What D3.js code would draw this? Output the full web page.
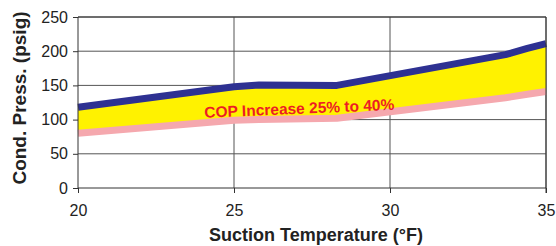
<!DOCTYPE html>
<html>
<head>
<meta charset="utf-8">
<script src="https://cdn.jsdelivr.net/npm/d3@7"></script>
<style>
  body { margin: 0; background: #fff; }
  text { font-family: "Liberation Sans", Arial, sans-serif; }
</style>
</head>
<body>
<svg id="chart" width="556" height="246"></svg>
<script>
// suction temperature (°F) where the lines change direction
const temps = [20, 25, 25.8, 28.3, 33.7, 34.4, 35];
// condensing pressure, upper (blue) and lower (pink) lines
const upperPress = [118, 148, 150.5, 150, 195, 204, 211];
const lowerPress = [80, 99, 100, 102, 132, 137, 141];
const xTicks = [20, 25, 30, 35];
const yTicks = [0, 50, 100, 150, 200, 250];
const bandLabel = 'COP Increase 25% to 40%';

const width = 556, height = 246;
const margin = { top: 17, right: 10, bottom: 58, left: 78 };

const svg = d3.select('#chart');

const x = d3.scaleLinear().domain([20, 35]).range([margin.left, width - margin.right]);
const y = d3.scaleLinear().domain([0, 250]).range([height - margin.bottom, margin.top]);

const rows = temps.map((t, i) => ({ t, hi: upperPress[i], lo: lowerPress[i] }));

// grid
svg.append('g')
  .selectAll('line')
  .data(yTicks.slice(1))
  .join('line')
  .attr('x1', x(20)).attr('x2', x(35))
  .attr('y1', d => y(d)).attr('y2', d => y(d))
  .attr('stroke', '#555').attr('stroke-width', 1);

svg.append('g')
  .selectAll('line')
  .data(xTicks.slice(1))
  .join('line')
  .attr('x1', d => x(d)).attr('x2', d => x(d))
  .attr('y1', y(0)).attr('y2', y(250))
  .attr('stroke', '#555').attr('stroke-width', 1);

// yellow band between lines
const area = d3.area()
  .x(d => x(d.t))
  .y0(d => y(d.lo))
  .y1(d => y(d.hi));

svg.append('path')
  .datum(rows)
  .attr('d', area)
  .attr('fill', '#fff200');

const line = key => d3.line()
  .x(d => x(d.t))
  .y(d => y(d[key]));

svg.append('path')
  .datum(rows)
  .attr('d', line('lo'))
  .attr('fill', 'none')
  .attr('stroke', '#f5a8ae')
  .attr('stroke-width', 7)
  .attr('stroke-linejoin', 'round');

svg.append('path')
  .datum(rows)
  .attr('d', line('hi'))
  .attr('fill', 'none')
  .attr('stroke', '#2e3192')
  .attr('stroke-width', 7)
  .attr('stroke-linejoin', 'round');

// axes
const xAxis = svg.append('g')
  .attr('transform', `translate(0,${y(0)})`)
  .call(d3.axisBottom(x).tickValues(xTicks).tickSize(5).tickPadding(12));

const yAxis = svg.append('g')
  .attr('transform', `translate(${x(20)},0)`)
  .call(d3.axisLeft(y).tickValues(yTicks).tickSize(5).tickPadding(5));

[xAxis, yAxis].forEach(g => {
  g.select('.domain').attr('stroke', '#333');
  g.selectAll('.tick line').attr('stroke', '#333');
  g.selectAll('.tick text')
    .attr('fill', '#222')
    .style('font-size', '16px')
    .style('font-family', '"Liberation Sans", Arial, sans-serif');
});

// remove the outer tick ends from d3's domain path
xAxis.select('.domain').attr('d', `M${x(20)},0H${x(35)}`);
yAxis.select('.domain').attr('d', `M0,${y(0)}V${y(250)}`);

// frame top and right
svg.append('line')
  .attr('x1', x(20)).attr('x2', x(35))
  .attr('y1', y(250)).attr('y2', y(250))
  .attr('stroke', '#333');
svg.append('line')
  .attr('x1', x(35)).attr('x2', x(35))
  .attr('y1', y(250)).attr('y2', y(0) + 5)
  .attr('stroke', '#333');

// band label
svg.append('text')
  .attr('transform', `translate(${x(27.1)},${y(110) + 1}) rotate(-2.4)`)
  .attr('text-anchor', 'middle')
  .attr('fill', '#ed1c24')
  .style('font-size', '15.5px')
  .style('font-weight', 'bold')
  .text(bandLabel);

// axis titles
svg.append('text')
  .attr('x', 316)
  .attr('y', 241)
  .attr('text-anchor', 'middle')
  .attr('fill', '#222')
  .style('font-size', '18px')
  .style('font-weight', 'bold')
  .text('Suction Temperature (°F)');

svg.append('text')
  .attr('transform', 'translate(26,98) rotate(-90)')
  .attr('text-anchor', 'middle')
  .attr('fill', '#222')
  .style('font-size', '19px')
  .style('font-weight', 'bold')
  .text('Cond. Press. (psig)');
</script>
</body>
</html>
